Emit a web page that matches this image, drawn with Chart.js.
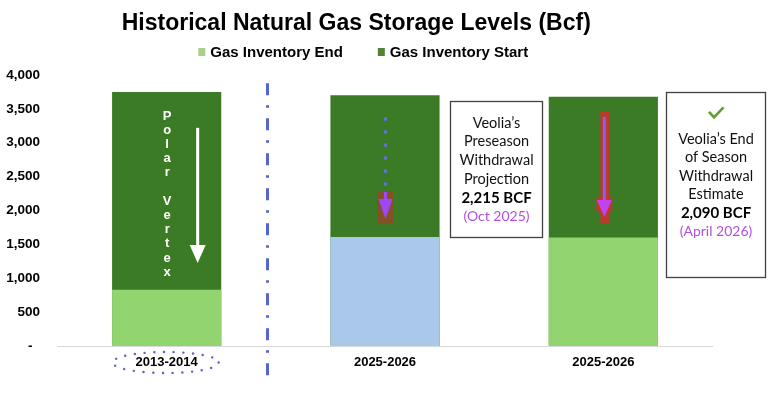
<!DOCTYPE html>
<html><head><meta charset="utf-8">
<script src="https://cdn.jsdelivr.net/npm/chart.js@4/dist/chart.umd.min.js"></script>
<style>html,body{margin:0;padding:0;background:#fff}canvas{display:block}</style>
</head><body>
<canvas id="c" width="770" height="399"></canvas>
<script>
// ---- data ----
const categories = ['2013-2014', '2025-2026', '2025-2026'];
const inventoryStart = [3750, 3700, 3680];
const inventoryEnd = [830, 1610, 1600];
const seriesNames = ['Gas Inventory End', 'Gas Inventory Start'];
const yTickValues = [0, 500, 1000, 1500, 2000, 2500, 3000, 3500, 4000];
const titleText = 'Historical Natural Gas Storage Levels (Bcf)';
const polarText = 'Polar Vertex';
const box1Lines = ['Veolia\u2019s', 'Preseason', 'Withdrawal', 'Projection', '2,215 BCF', '(Oct 2025)'];
const box2Lines = ['Veolia\u2019s End', 'of Season', 'Withdrawal', 'Estimate', '2,090 BCF', '(April 2026)'];

// ---- styles ----
const COL_START = '#3b7b25';
const COL_END = ['#92d46f', '#a9c8ea', '#92d46f'];
const LEGEND_COL = ['#a9d18e', '#548235'];
const SANS = '"Liberation Sans", Arial, sans-serif';
const BOXFONT = 'Lato, "Liberation Sans", sans-serif';

const legendPlugin = {
  id: 'customLegend',
  afterDraw(chart) {
    const ctx = chart.ctx;
    ctx.save();
    ctx.font = 'bold 15px ' + SANS;
    ctx.textBaseline = 'middle';
    ctx.textAlign = 'left';
    const boxW = 7, gap = 5, spacing = 35;
    const widths = seriesNames.map(t => ctx.measureText(t).width);
    const total = widths.reduce((a, w) => a + boxW + gap + w, 0) + spacing * (seriesNames.length - 1);
    const cx = (chart.width - chart.options.layout.padding.right) / 2 + 7;
    let x = cx - total / 2;
    const y = 52;
    seriesNames.forEach((t, i) => {
      ctx.fillStyle = LEGEND_COL[i];
      ctx.fillRect(x, y - 4, boxW, 8);
      ctx.fillStyle = '#000';
      ctx.fillText(t, x + boxW + gap, y + 0.5);
      x += boxW + gap + widths[i] + spacing;
    });
    ctx.restore();
  }
};

const annotPlugin = {
  id: 'annotations',
  afterDatasetsDraw(chart) {
    const ctx = chart.ctx;
    const xs = chart.scales.x, ys = chart.scales.y;
    const X = v => xs.getPixelForValue(v);
    const Y = v => ys.getPixelForValue(v);
    ctx.save();

    // separator dash-dot line
    ctx.strokeStyle = '#5566cc';
    ctx.lineWidth = 3;
    ctx.setLineDash([12, 10, 2.5, 10.5]);
    ctx.beginPath();
    const sx = Math.round(X(0.46)) + 0.5;
    ctx.moveTo(sx, Y(3880));
    ctx.lineTo(sx, chart.height - 16);
    ctx.stroke();
    ctx.setLineDash([]);

    // dotted ellipse around first category label
    ctx.strokeStyle = '#5a62c8';
    ctx.lineWidth = 2.4;
    ctx.lineCap = 'round';
    ctx.setLineDash([0.1, 9.6]);
    ctx.beginPath();
    ctx.ellipse(X(0) - 1, Y(0) + 16.5, 53, 10.5, 0, 0, Math.PI * 2);
    ctx.stroke();
    ctx.setLineDash([]);
    ctx.lineCap = 'butt';

    // Polar Vertex vertical text
    ctx.fillStyle = '#ffffff';
    ctx.font = 'bold 13px ' + SANS;
    ctx.textAlign = 'center';
    ctx.textBaseline = 'middle';
    const py0 = Y(3395);
    polarText.split('').forEach((ch, i) => {
      if (ch !== ' ') ctx.fillText(ch, X(0) + 0.5, py0 + i * 14.2);
    });

    // white arrow
    const ax = X(0.142);
    ctx.fillStyle = '#ffffff';
    ctx.fillRect(ax - 1.5, Y(3220), 3, Y(1490) - Y(3220));
    ctx.beginPath();
    ctx.moveTo(ax - 8, Y(1490));
    ctx.lineTo(ax + 8, Y(1490));
    ctx.lineTo(ax, Y(1225));
    ctx.closePath();
    ctx.fill();

    // bar 2 arrow (dotted)
    const bx = X(1) + 0.5;
    ctx.fillStyle = 'rgba(205,40,40,0.5)';
    ctx.fillRect(bx - 8.5, Y(2273), 16, Y(1815) - Y(2273));
    ctx.fillStyle = '#6272d8';
    for (let yy = Y(3350); yy <= Y(2376) + 0.5; yy += 13) {
      ctx.fillRect(bx - 1.6, yy - 1.6, 3.2, 3.2);
    }
    ctx.fillStyle = '#a046f5';
    ctx.fillRect(bx - 1.5, Y(2273), 3, Y(2170) - Y(2273));
    ctx.beginPath();
    ctx.moveTo(bx - 7, Y(2170));
    ctx.lineTo(bx + 7, Y(2170));
    ctx.lineTo(bx, Y(1875));
    ctx.closePath();
    ctx.fill();

    // bar 3 arrow
    const cx3 = X(2) + 1;
    ctx.fillStyle = 'rgba(215,45,45,0.8)';
    ctx.fillRect(cx3 - 4, Y(3454), 9, Y(1815) - Y(3454));
    ctx.fillRect(cx3 - 8, Y(2200), 16, Y(1990) - Y(2200));
    ctx.fillStyle = '#8d5cf2';
    ctx.fillRect(cx3 - 1.5, Y(3380), 3, Y(2125) - Y(3380));
    ctx.fillStyle = '#c043f0';
    ctx.beginPath();
    ctx.moveTo(cx3 - 7.5, Y(2155));
    ctx.lineTo(cx3 + 7.5, Y(2155));
    ctx.lineTo(cx3, Y(1904));
    ctx.closePath();
    ctx.fill();

    // text boxes
    function drawBox(left, top, w, bottom, lines, y0, step) {
      ctx.fillStyle = '#ffffff';
      ctx.fillRect(left, top, w, bottom - top);
      ctx.strokeStyle = '#404040';
      ctx.lineWidth = 1.3;
      ctx.strokeRect(left, top, w, bottom - top);
      ctx.textAlign = 'center';
      ctx.textBaseline = 'middle';
      const mx = left + w / 2;
      lines.forEach((t, i) => {
        if (i === lines.length - 2) { ctx.font = 'bold 15px ' + BOXFONT; ctx.fillStyle = '#000'; }
        else if (i === lines.length - 1) { ctx.font = '14px ' + BOXFONT; ctx.fillStyle = '#b050e0'; }
        else { ctx.font = '14.5px ' + BOXFONT; ctx.fillStyle = '#111'; }
        ctx.fillText(t, mx, y0 + i * step);
      });
    }
    const b1l = Math.round(X(1) + 64.5) + 0.5;
    drawBox(b1l, Math.round(Y(3616)) + 0.5, 92, Math.round(Y(inventoryEnd[1])) + 0.5, box1Lines, Y(3616) + 22, 18.7);
    const b2l = Math.round(X(2) + 62.5) + 0.5;
    drawBox(b2l, Math.round(Y(inventoryStart[0])) + 0.5, 99, Math.round(Y(1018)) + 0.5, box2Lines, Y(3750) + 47, 18.6);

    // check mark
    const ckx = b2l + 49.5, cky = Y(3750) + 21;
    ctx.strokeStyle = '#5f9e2c';
    ctx.lineWidth = 2.6;
    ctx.lineJoin = 'miter';
    ctx.beginPath();
    ctx.moveTo(ckx - 7, cky - 1);
    ctx.lineTo(ckx - 2, cky + 4.5);
    ctx.lineTo(ckx + 7.5, cky - 5.5);
    ctx.stroke();

    ctx.restore();
  }
};

new Chart(document.getElementById('c'), {
  type: 'bar',
  data: {
    labels: categories,
    datasets: [
      { label: seriesNames[0], data: inventoryEnd, backgroundColor: COL_END, grouped: false, barPercentage: 0.5, categoryPercentage: 1 },
      { label: seriesNames[1], data: inventoryStart, backgroundColor: COL_START, grouped: false, barPercentage: 0.5, categoryPercentage: 1 }
    ]
  },
  options: {
    responsive: false,
    animation: false,
    devicePixelRatio: 1,
    layout: { padding: { left: 0, right: 57.5, top: 0, bottom: 0 } },
    plugins: {
      legend: { display: false },
      tooltip: { enabled: false },
      title: {
        display: true, text: titleText, color: '#000',
        font: { family: SANS, size: 23, weight: 'bold' },
        padding: { top: 9.5, bottom: 37.9 }
      }
    },
    scales: {
      x: {
        grid: { display: false, drawTicks: false },
        border: { display: true, color: '#d9d9d9', width: 1 },
        ticks: { color: '#000', font: { family: SANS, size: 13, weight: 'bold' }, padding: 9, maxRotation: 0, autoSkip: false },
        afterFit(s) { s.height = 53; }
      },
      y: {
        min: 0, max: 4000,
        afterBuildTicks(s) { s.ticks = yTickValues.map(v => ({ value: v })); },
        grid: { display: false, drawTicks: false },
        border: { display: false },
        ticks: {
          color: '#000', font: { family: SANS, size: 13.5, weight: 'bold' }, padding: 17.5,
          callback: v => v === 0 ? '-  ' : v.toLocaleString('en-US')
        },
        afterFit(s) { s.width = 57.5; }
      }
    }
  },
  plugins: [legendPlugin, annotPlugin]
});
</script>
</body></html>
